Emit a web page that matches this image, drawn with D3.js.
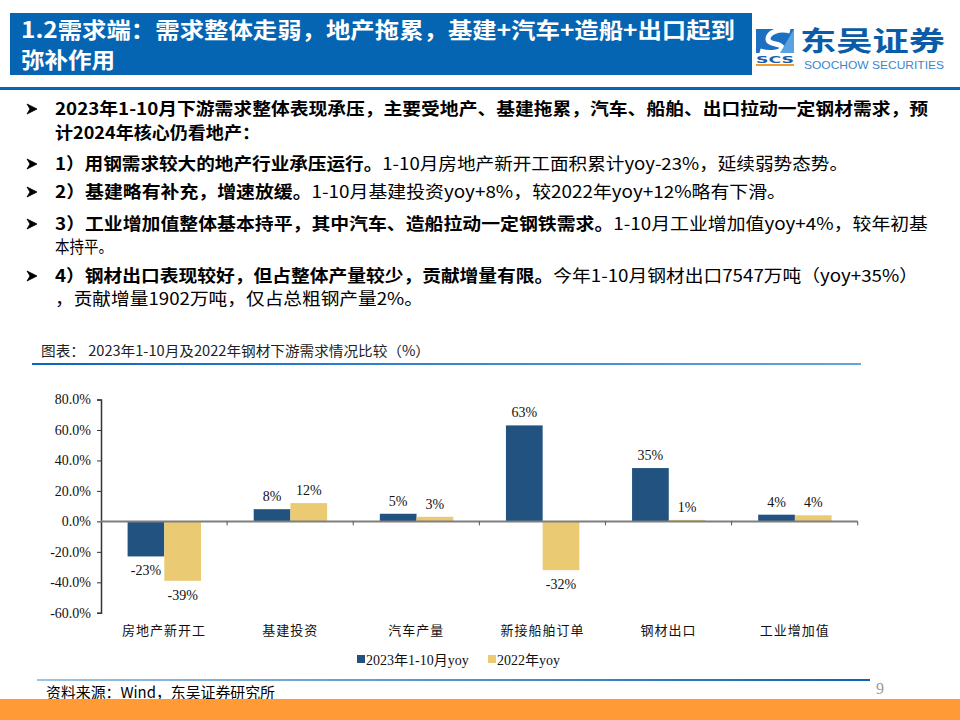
<!DOCTYPE html>
<html>
<head>
<meta charset="utf-8">
<script src="https://cdn.jsdelivr.net/npm/d3@7"></script>
<style>
  html, body { margin: 0; padding: 0; background: #fff; }
  svg { display: block; }
</style>
</head>
<body>
<div id="chart"></div>
<script>
// chart data
const categories = ['房地产新开工', '基建投资', '汽车产量', '新接船舶订单', '钢材出口', '工业增加值']
const seriesNames = ['2023年1-10月yoy', '2022年yoy']
const yoy2023 = [-23, 8, 5, 63, 35, 4.4]
const yoy2022 = [-39, 12, 3, -32, 1, 4]
const yTicks = [80, 60, 40, 20, 0, -20, -40, -60]
const colors = ['#22527f', '#ebca74']

// slide text
const headerLines = ['1.2需求端：需求整体走弱，地产拖累，基建+汽车+造船+出口起到', '弥补作用']
const bullets = [
  { y: 109, arrow: true, end: 928, parts: [['2023年1-10月下游需求整体表现承压，主要受地产、基建拖累，汽车、船舶、出口拉动一定钢材需求，预', true]] },
  { y: 133, end: 260, parts: [['计2024年核心仍看地产：', true]] },
  { y: 164, arrow: true, end: 848, parts: [['1）用钢需求较大的地产行业承压运行。', true], ['1-10月房地产新开工面积累计yoy-23%，延续弱势态势。', false]] },
  { y: 192, arrow: true, end: 786, parts: [['2）基建略有补充，增速放缓。', true], ['1-10月基建投资yoy+8%，较2022年yoy+12%略有下滑。', false]] },
  { y: 224, arrow: true, end: 928, parts: [['3）工业增加值整体基本持平，其中汽车、造船拉动一定钢铁需求。', true], ['1-10月工业增加值yoy+4%，较年初基', false]] },
  { y: 247, end: 113, parts: [['本持平。', false]] },
  { y: 276, arrow: true, end: 918, parts: [['4）钢材出口表现较好，但占整体产量较少，贡献增量有限。', true], ['今年1-10月钢材出口7547万吨（yoy+35%）', false]] },
  { y: 299, end: 423, parts: [['，贡献增量1902万吨，仅占总粗钢产量2%。', false]] }
]

const W = 960
const H = 720
const sans = '"Noto Sans CJK SC", "Noto Sans", sans-serif'
const serif = '"Liberation Serif", "Noto Sans CJK SC", serif'
const hyphen = s => s.replace('−', '-')

const svg = d3.select('#chart').append('svg')
  .attr('width', W)
  .attr('height', H)

const defs = svg.append('defs')
const g1 = defs.append('linearGradient').attr('id', 'titleLine')
g1.append('stop').attr('offset', '0%').attr('stop-color', '#0a66be')
g1.append('stop').attr('offset', '100%').attr('stop-color', '#63a6de')
const g2 = defs.append('linearGradient').attr('id', 'footLine')
g2.append('stop').attr('offset', '0%').attr('stop-color', '#9cc4e8')
g2.append('stop').attr('offset', '100%').attr('stop-color', '#0a64b0')

// header
svg.append('rect').attr('x', 10).attr('y', 13).attr('width', 742).attr('height', 62).attr('fill', '#0565b2')
svg.selectAll('.head').data(headerLines).enter().append('text')
  .attr('class', 'head')
  .attr('x', 21)
  .attr('y', (d, i) => 38 + i * 30)
  .attr('font-family', sans)
  .attr('font-weight', 'bold')
  .attr('font-size', 22)
  .attr('fill', '#fff')
  .attr('textLength', (d, i) => i === 0 ? 714 : 94)
  .attr('lengthAdjust', 'spacingAndGlyphs')
  .text(d => d)
svg.append('rect').attr('x', 0).attr('y', 87).attr('width', W).attr('height', 3).attr('fill', '#0565b2')

// logo
const logo = svg.append('g')
logo.append('rect').attr('x', 756).attr('y', 29).attr('width', 38).attr('height', 24).attr('fill', '#1d6fc0')
logo.append('path')
  .attr('d', 'M790,31 C778,28 768,33 768,39 C768,45 782,43 782,48 C782,52 770,54 760,51')
  .attr('fill', 'none').attr('stroke', '#fff').attr('stroke-width', 5)
logo.append('path')
  .attr('d', 'M794,29 L794,53 L780,53 Z').attr('fill', '#5aa3e0')
logo.append('text').attr('x', 775).attr('y', 63).attr('text-anchor', 'middle')
  .attr('font-family', '"DejaVu Sans", sans-serif').attr('font-weight', 'bold').attr('font-size', 9)
  .attr('fill', '#1d5fa8').attr('textLength', 38).attr('lengthAdjust', 'spacingAndGlyphs').text('SCS')
logo.append('rect').attr('x', 756).attr('y', 64).attr('width', 38).attr('height', 2).attr('fill', '#f39a2b')
logo.append('text').attr('x', 800).attr('y', 51)
  .attr('font-family', sans).attr('font-weight', 'bold').attr('font-size', 27)
  .attr('fill', '#0b5ca8').attr('textLength', 145).attr('lengthAdjust', 'spacingAndGlyphs').text('东吴证券')
logo.append('text').attr('x', 804).attr('y', 69)
  .attr('font-family', '"Liberation Sans", sans-serif').attr('font-size', 11)
  .attr('fill', '#3a87cc').attr('textLength', 140).attr('lengthAdjust', 'spacingAndGlyphs').text('SOOCHOW SECURITIES')

// bullets
const bl = svg.selectAll('.bullet').data(bullets).enter().append('g').attr('class', 'bullet')
bl.filter(d => d.arrow).append('path')
  .attr('transform', d => 'translate(27,' + d.y + ')')
  .attr('d', 'M0,-5 L10,0 L0,5 L3,0 Z')
  .attr('fill', '#000')
  .attr('stroke', '#000')
  .attr('stroke-width', 0.8)
  .attr('stroke-linejoin', 'round')
bl.append('text')
  .attr('x', 55).attr('y', d => d.y + 6)
  .attr('font-family', sans).attr('font-size', 17)
  .attr('fill', '#000')
  .attr('textLength', d => d.end - 55)
  .attr('lengthAdjust', 'spacingAndGlyphs')
  .selectAll('tspan').data(d => d.parts).enter().append('tspan')
  .attr('font-weight', d => d[1] ? 'bold' : 'normal')
  .text(d => d[0])

// chart title
svg.append('text').attr('x', 41).attr('y', 356)
  .attr('font-family', sans).attr('font-size', 14).attr('fill', '#222')
  .attr('textLength', 389).attr('lengthAdjust', 'spacingAndGlyphs')
  .text('图表：  2023年1-10月及2022年钢材下游需求情况比较（%）')
svg.append('rect').attr('x', 32).attr('y', 363).attr('width', 829).attr('height', 2).attr('fill', 'url(#titleLine)')

// bar chart
const x0 = d3.scaleBand().domain(categories).range([101, 857.7])
const x1 = d3.scaleBand().domain(seriesNames).range([26.6, 100])
const y = d3.scaleLinear().domain([-60, 80]).range([612.8, 399.5])

const table = categories.map((c, i) => ({ cat: c, vals: [yoy2023[i], yoy2022[i]] }))

const yAxis = svg.append('g')
  .attr('transform', 'translate(101,0)')
  .call(d3.axisLeft(y).tickValues(yTicks).tickSize(4).tickPadding(6)
    .tickFormat(d => hyphen(d3.format('.1f')(d)) + '%'))
yAxis.select('.domain').attr('stroke', '#333').attr('stroke-width', 1.5)
yAxis.selectAll('.tick line').attr('stroke', '#333')
yAxis.selectAll('.tick text')
  .attr('font-family', serif).attr('font-size', 14).attr('fill', '#111')

const groups = svg.selectAll('.grp').data(table).enter().append('g')
  .attr('class', 'grp')
  .attr('transform', d => 'translate(' + x0(d.cat) + ',0)')

const bars = groups.selectAll('.bar')
  .data(d => d.vals.map((v, i) => ({ name: seriesNames[i], v: v, i: i })))
  .enter()

bars.append('rect')
  .attr('x', d => x1(d.name))
  .attr('width', x1.bandwidth())
  .attr('y', d => y(Math.max(0, d.v)))
  .attr('height', d => Math.abs(y(d.v) - y(0)))
  .attr('fill', d => colors[d.i])

bars.append('text')
  .attr('x', d => x1(d.name) + x1.bandwidth() / 2)
  .attr('y', d => d.v >= 0 ? y(d.v) - 8 : y(d.v) + 19)
  .attr('text-anchor', 'middle')
  .attr('font-family', serif).attr('font-size', 14).attr('fill', '#111')
  .text(d => hyphen(d3.format('.0f')(d.v)) + '%')

// x axis at zero
const xAxis = svg.append('g')
  .attr('transform', 'translate(0,' + y(0) + ')')
xAxis.append('line').attr('x1', 101).attr('x2', 857.7).attr('stroke', '#7f7f7f').attr('stroke-width', 2)
xAxis.selectAll('.xt').data(categories).enter().append('line')
  .attr('x1', d => x0(d) + x0.bandwidth()).attr('x2', d => x0(d) + x0.bandwidth())
  .attr('y1', 0).attr('y2', 4)
  .attr('stroke', '#555')

svg.selectAll('.cat').data(categories).enter().append('text')
  .attr('x', d => x0(d) + x0.bandwidth() / 2)
  .attr('y', 635)
  .attr('text-anchor', 'middle')
  .attr('font-family', serif).attr('font-size', 13).attr('fill', '#111')
  .attr('letter-spacing', 1)
  .text(d => d)

// legend
const legendX = [357, 488]
const lg = svg.selectAll('.lg').data(seriesNames).enter().append('g')
  .attr('transform', (d, i) => 'translate(' + legendX[i] + ',660)')
lg.append('rect').attr('x', 0).attr('y', -5).attr('width', 8).attr('height', 8).attr('fill', (d, i) => colors[i])
lg.append('text').attr('x', 9).attr('y', 5)
  .attr('font-family', serif).attr('font-size', 14).attr('fill', '#111')
  .text(d => d)

// footer
svg.append('rect').attr('x', 37).attr('y', 679).attr('width', 833).attr('height', 2).attr('fill', 'url(#footLine)')
svg.append('text').attr('x', 46).attr('y', 698)
  .attr('font-family', sans).attr('font-size', 15).attr('fill', '#000')
  .attr('textLength', 229).attr('lengthAdjust', 'spacingAndGlyphs')
  .text('资料来源：Wind，东吴证券研究所')
svg.append('text').attr('x', 876).attr('y', 694)
  .attr('font-family', serif).attr('font-size', 16).attr('fill', '#999')
  .text('9')
svg.append('rect').attr('x', 0).attr('y', 699).attr('width', W).attr('height', 21).attr('fill', '#ff9a36')
</script>
</body>
</html>
